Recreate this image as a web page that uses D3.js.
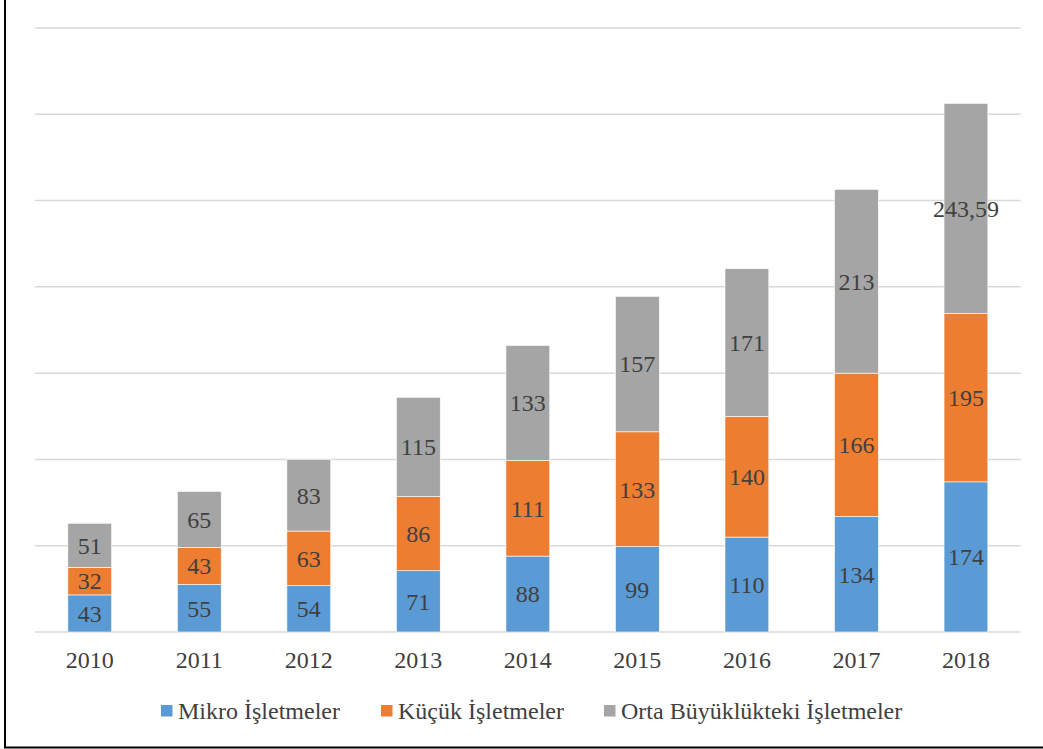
<!DOCTYPE html>
<html><head><meta charset="utf-8">
<script src="https://cdn.jsdelivr.net/npm/d3@7"></script>
<style>body{margin:0;background:#fff}svg{display:block}</style>
</head><body>
<svg id="c" width="1043" height="749"></svg>
<script>
const years = ["2010","2011","2012","2013","2014","2015","2016","2017","2018"];
const mikro = [43,55,54,71,88,99,110,134,174];
const kucuk = [32,43,63,86,111,133,140,166,195];
const orta = [51,65,83,115,133,157,171,213,243.59];
const seriesNames = ["Mikro İşletmeler","Küçük İşletmeler","Orta Büyüklükteki İşletmeler"];
const colors = ["#5b9bd5","#ed7d31","#a5a5a5"];
const yTicks = [0,100,200,300,400,500,600,700];

const svg = d3.select("#c");
const font = "Liberation Serif, Times New Roman, Tinos, DejaVu Serif, serif";
const textColor = "#404040";
const fs = 24;

const x = d3.scaleBand().domain(years).range([35,1020.7]).paddingInner(0.6).paddingOuter(0.3);
const y = d3.scaleLinear().domain([0,700]).range([632,28]);

svg.append("line").attr("x1",5).attr("x2",5).attr("y1",0).attr("y2",748).attr("stroke","#000").attr("stroke-width",2);
svg.append("line").attr("x1",4).attr("x2",1043).attr("y1",747.5).attr("y2",747.5).attr("stroke","#000").attr("stroke-width",2);

svg.append("g").selectAll("line").data(yTicks).join("line")
  .attr("x1",35).attr("x2",1020.7)
  .attr("y1",d=>y(d)).attr("y2",d=>y(d))
  .attr("stroke","#d9d9d9").attr("stroke-width",1.5);

const table = years.map((yr,i)=>({year:yr, s0:mikro[i], s1:kucuk[i], s2:orta[i]}));
const keys = ["s0","s1","s2"];
const stack = d3.stack().keys(keys)(table);

const fmt = v => String(v).replace(".", ",");

stack.forEach((layer,k)=>{
  const g = svg.append("g");
  g.selectAll("rect").data(layer).join("rect")
    .attr("x",d=>x(d.data.year))
    .attr("width",x.bandwidth())
    .attr("y",d=>y(d[1]))
    .attr("height",d=>y(d[0])-y(d[1]))
    .attr("fill",colors[k])
    .attr("stroke","#fff").attr("stroke-width",0.6);
  g.selectAll("text").data(layer).join("text")
    .attr("x",d=>x(d.data.year)+x.bandwidth()/2)
    .attr("y",d=>(y(d[0])+y(d[1]))/2)
    .attr("dy","0.35em")
    .attr("text-anchor","middle")
    .style("font-family",font).attr("font-size",fs)
    .attr("fill",textColor)
    .text(d=>fmt(d.data[keys[k]]));
});

svg.append("g").selectAll("text").data(years).join("text")
  .attr("x",d=>x(d)+x.bandwidth()/2).attr("y",668)
  .attr("text-anchor","middle")
  .style("font-family",font).attr("font-size",fs)
  .attr("fill",textColor).text(d=>d);

const legX = [161,381,604];
const lg = svg.append("g");
seriesNames.forEach((n,i)=>{
  lg.append("rect").attr("x",legX[i]).attr("y",705).attr("width",11.5).attr("height",11.5).attr("fill",colors[i]);
  lg.append("text").attr("x",legX[i]+17).attr("y",719)
    .style("font-family",font).attr("font-size",fs).attr("fill",textColor).text(n);
});
</script>
</body></html>
